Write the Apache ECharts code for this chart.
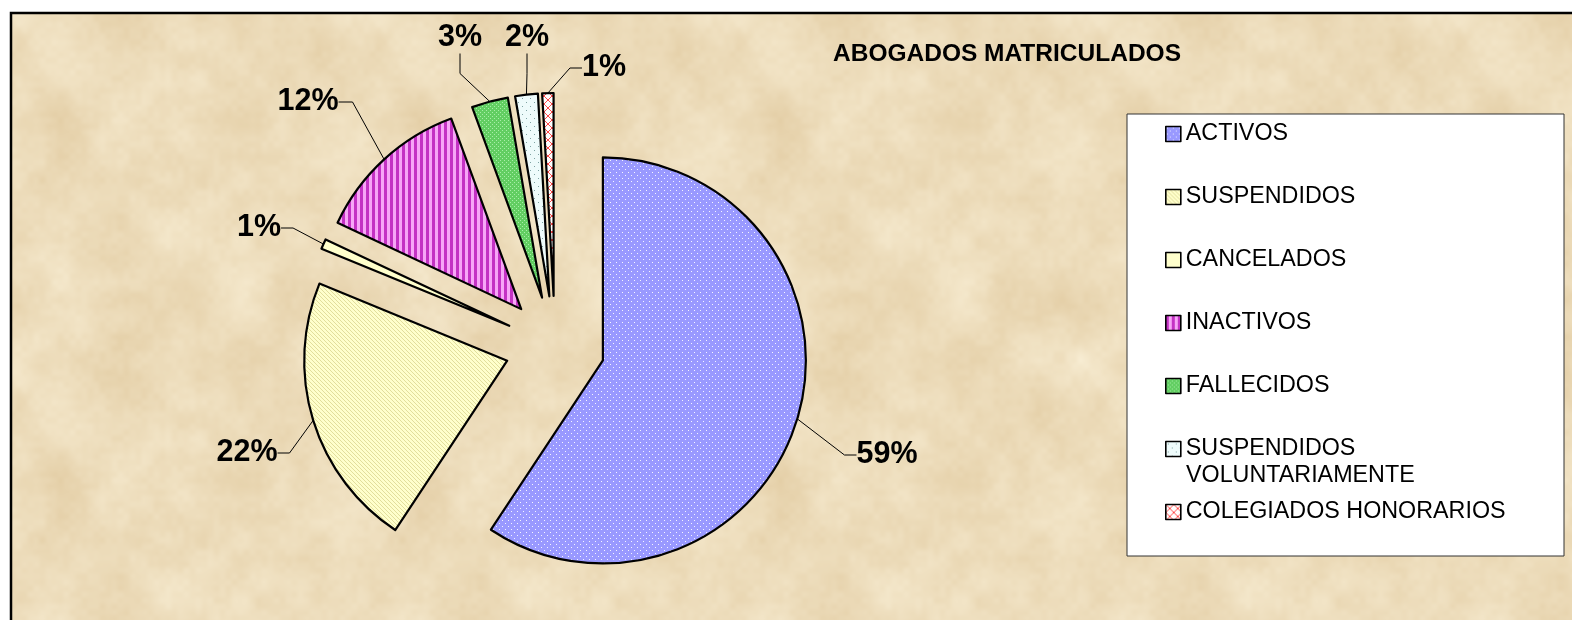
<!DOCTYPE html>
<html>
<head>
<meta charset="utf-8">
<title>ABOGADOS MATRICULADOS</title>
<script src="https://cdn.jsdelivr.net/npm/echarts@6/dist/echarts.min.js"></script>
<style>
  html, body { margin: 0; padding: 0; background: #fff; }
  #main { width: 1572px; height: 620px; }
</style>
</head>
<body>
<div id="main"></div>
<script>
// datos (porcentajes)
var categorias = ['ACTIVOS', 'SUSPENDIDOS', 'CANCELADOS', 'INACTIVOS', 'FALLECIDOS',
  'SUSPENDIDOS VOLUNTARIAMENTE', 'COLEGIADOS HONORARIOS'];
var porcentajes = [59.3, 21.9, 0.8, 12.4, 2.9, 1.8, 0.9];
var titulo = 'ABOGADOS MATRICULADOS';

var FONT = '"Liberation Sans", Arial, sans-serif';
var CENTRO = [555, 346];
var RADIO = 203;
var SEPARACION = 50; // porciones separadas (explode)

// tramas tipo excel
function trama(w, h, dibujar) {
  var c = document.createElement('canvas');
  c.width = w; c.height = h;
  dibujar(c.getContext('2d'), w, h);
  return { image: c, repeat: 'repeat' };
}
var rellenos = [
  trama(6, 6, function (g) {
    g.fillStyle = '#9999FF'; g.fillRect(0, 0, 6, 6);
    g.fillStyle = 'rgba(255,255,255,0.9)'; g.fillRect(1, 1, 1, 1); g.fillRect(4, 4, 1, 1);
  }),
  trama(4, 4, function (g) {
    g.fillStyle = '#FFFFCC'; g.fillRect(0, 0, 4, 4);
    g.fillStyle = '#E2DE9C';
    for (var i = 0; i < 4; i++) g.fillRect(i, i, 1, 1);
  }),
  '#FFFFCC',
  trama(6, 1, function (g) {
    g.fillStyle = '#F7A6F7'; g.fillRect(0, 0, 6, 1);
    g.fillStyle = '#C432C4'; g.fillRect(0, 0, 3, 1);
  }),
  trama(4, 4, function (g) {
    g.fillStyle = '#62CE62'; g.fillRect(0, 0, 4, 4);
    g.fillStyle = '#A8EEA8'; g.fillRect(0, 0, 1, 1); g.fillRect(2, 2, 1, 1);
  }),
  trama(8, 8, function (g) {
    g.fillStyle = '#EEFBFB'; g.fillRect(0, 0, 8, 8);
    g.fillStyle = '#7FA3A3'; g.fillRect(2, 2, 1, 1); g.fillRect(6, 6, 1, 1);
  }),
  trama(8, 8, function (g) {
    g.fillStyle = '#FFFFFF'; g.fillRect(0, 0, 8, 8);
    g.strokeStyle = '#FF4A4A'; g.lineWidth = 1;
    g.beginPath(); g.moveTo(0, 0); g.lineTo(8, 8); g.moveTo(8, 0); g.lineTo(0, 8); g.stroke();
  })
];

// fondo tipo pergamino (ruido suave, determinista)
function hash(x, y) {
  var n = Math.imul(x, 374761393) + Math.imul(y, 668265263);
  n = Math.imul(n ^ (n >>> 13), 1274126177);
  return ((n ^ (n >>> 16)) & 0xffff) / 65535;
}
function ruido(x, y, celda, per) {
  var gx = x / celda, gy = y / celda;
  var x0 = Math.floor(gx), y0 = Math.floor(gy);
  var fx = gx - x0, fy = gy - y0;
  fx = fx * fx * (3 - 2 * fx); fy = fy * fy * (3 - 2 * fy);
  var a = hash(x0 % per, y0 % per), b = hash((x0 + 1) % per, y0 % per);
  var c = hash(x0 % per, (y0 + 1) % per), d = hash((x0 + 1) % per, (y0 + 1) % per);
  return (a * (1 - fx) + b * fx) * (1 - fy) + (c * (1 - fx) + d * fx) * fy;
}
var pergamino = trama(360, 360, function (g, w, h) {
  var img = g.createImageData(w, h);
  for (var y = 0; y < h; y++) {
    for (var x = 0; x < w; x++) {
      var t = 0.55 * ruido(x, y, 60, 6) + 0.3 * ruido(x, y, 20, 18) + 0.15 * ruido(x, y, 6, 60);
      var p = (y * w + x) * 4;
      img.data[p] = 247 - 22 * t;
      img.data[p + 1] = 236 - 34 * t;
      img.data[p + 2] = 210 - 50 * t;
      img.data[p + 3] = 255;
    }
  }
  g.putImageData(img, 0, 0);
});

// donde va cada etiqueta de porcentaje (centro del texto)
var posEtiquetas = [[887, 455], [247, 453], [259, 228], [308, 102], [460, 38], [527, 38], [604, 68]];
var tramoFinal = [12, 12, 12, 14, 20, 20, 12]; // largo del tramo junto a la etiqueta
// centro vertical de cada entrada de la leyenda
var filasLeyenda = [134, 197, 260, 323, 386, 449, 512];

var total = porcentajes.reduce(function (a, b) { return a + b; }, 0);

// una serie por porcion, desplazada a lo largo de su angulo medio
var series = [];
var acum = 0;
categorias.forEach(function (cat, k) {
  var medio = (acum + porcentajes[k] / 2) / total * Math.PI * 2;
  acum += porcentajes[k];
  var datos = categorias.map(function (c, i) {
    if (i === k) {
      return { name: c, value: porcentajes[i], itemStyle: { color: rellenos[i], borderColor: '#000', borderWidth: 2.2 } };
    }
    return {
      name: c, value: porcentajes[i],
      itemStyle: { color: 'none', borderWidth: 0 },
      label: { show: false }, labelLine: { show: false }
    };
  });
  series.push({
    type: 'pie',
    name: cat,
    center: [CENTRO[0] + SEPARACION * Math.sin(medio), CENTRO[1] - SEPARACION * Math.cos(medio)],
    radius: RADIO,
    startAngle: 90,
    clockwise: true,
    avoidLabelOverlap: false,
    percentPrecision: 0,
    silent: true,
    emphasis: { disabled: true },
    label: {
      show: true,
      formatter: '{d}%',
      fontFamily: FONT,
      fontSize: 30.5,
      fontWeight: 'bold',
      color: '#000',
      padding: [10, 5, 10, 5]
    },
    labelLine: { show: true, length: 10, length2: tramoFinal[k], lineStyle: { color: '#000', width: 1 } },
    labelLayout: function (p) {
      var q = posEtiquetas[p.seriesIndex];
      return { x: q[0], y: q[1], align: 'center', verticalAlign: 'middle' };
    },
    data: datos
  });
});

var leyendas = categorias.map(function (c, i) {
  return {
    data: [c],
    left: 1165,
    top: filasLeyenda[i] - 13,
    padding: 0,
    itemWidth: 15,
    itemHeight: 15,
    itemGap: 0,
    icon: 'rect',
    selectedMode: false,
    itemStyle: { color: rellenos[i], borderColor: '#000', borderWidth: 1.6 },
    formatter: function (n) { return n === 'SUSPENDIDOS VOLUNTARIAMENTE' ? 'SUSPENDIDOS' : n; },
    textStyle: { fontFamily: FONT, fontSize: 23.3, color: '#000', lineHeight: 26 }
  };
});

var chart = echarts.init(document.getElementById('main'));
chart.setOption({
  animation: false,
  backgroundColor: 'transparent',
  title: {
    text: titulo,
    left: 833,
    top: 41,
    padding: 0,
    textStyle: { fontFamily: FONT, fontSize: 24.5, fontWeight: 'bold', color: '#000', lineHeight: 26 }
  },
  legend: leyendas,
  graphic: [
    {
      type: 'rect', z: -10, silent: true,
      shape: { x: 11, y: 13, width: 1600, height: 700 },
      style: { fill: pergamino, stroke: '#000', lineWidth: 2.5 }
    },
    {
      type: 'rect', z: -5, silent: true,
      shape: { x: 1127, y: 114, width: 437, height: 442 },
      style: { fill: '#fff', stroke: '#333', lineWidth: 1 }
    },
    {
      type: 'text', z: 5, silent: true,
      x: 1186, y: 476,
      style: { text: 'VOLUNTARIAMENTE', font: '23.3px ' + FONT, fill: '#000', verticalAlign: 'middle' }
    }
  ],
  series: series
});
</script>
</body>
</html>
